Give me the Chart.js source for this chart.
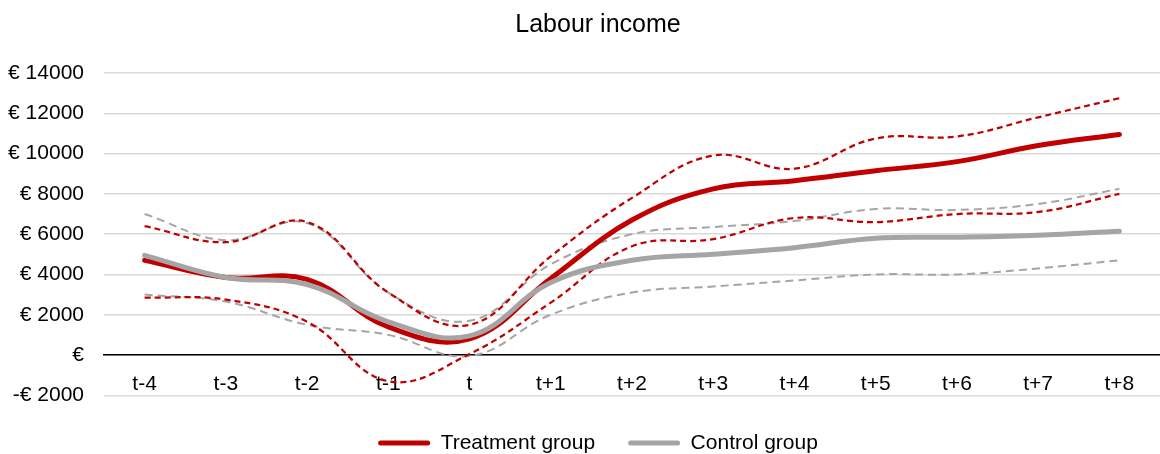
<!DOCTYPE html>
<html>
<head>
<meta charset="utf-8">
<title>Labour income</title>
<script src="https://cdn.jsdelivr.net/npm/chart.js@4/dist/chart.umd.min.js"></script>
<style>
  html, body { margin: 0; padding: 0; background: #ffffff; }
  #wrap { width: 1160px; height: 454px; }
</style>
</head>
<body>
<div id="wrap"><canvas id="chart" width="1160" height="454"></canvas></div>
<script>
// Years relative to the event year t
const categories = ['t-4', 't-3', 't-2', 't-1', 't', 't+1', 't+2', 't+3', 't+4', 't+5', 't+6', 't+7', 't+8'];

// Mean labour income (EUR)
const treatment = [4700, 3850, 3750, 1400, 800, 3800, 6700, 8250, 8650, 9150, 9600, 10400, 10950];
const control   = [4950, 3850, 3500, 1650, 950, 3600, 4700, 5000, 5330, 5800, 5850, 5950, 6150];

// Confidence bands (EUR)
const treatmentUpper = [6400, 5600, 6600, 3100, 1500, 4900, 7800, 9900, 9250, 10750, 10850, 11800, 12750];
const treatmentLower = [2850, 2750, 1650, -1300, 50, 2600, 5400, 5750, 6800, 6600, 7000, 7100, 8000];
const controlUpper   = [7000, 5700, 6550, 3100, 1700, 4500, 6000, 6350, 6650, 7250, 7200, 7500, 8250];
const controlLower   = [3000, 2650, 1500, 1000, -50, 2000, 3100, 3400, 3700, 4000, 4000, 4300, 4700];

// Value axis
const yMin = -2000;
const yMax = 14000;
const yStep = 2000;

const RED = '#C00000';
const GREY = '#A5A5A5';

Chart.defaults.font.family = '"Liberation Sans", Arial, sans-serif';
Chart.defaults.color = '#000000';

function euro(v) {
  if (v === 0) return '€';
  return (v < 0 ? '-€ ' : '€ ') + Math.abs(v);
}

const mainLine = (label, data, color, order) => ({
  label, data, order,
  borderColor: color, backgroundColor: color,
  borderWidth: 5, borderCapStyle: 'round', borderJoinStyle: 'round',
  pointRadius: 0, pointHoverRadius: 0, tension: 0.4, fill: false
});

const bandLine = (label, data, color, dash, width, order) => ({
  label, data, order,
  borderColor: color, backgroundColor: color,
  borderWidth: width, borderDash: dash, borderCapStyle: 'butt',
  pointRadius: 0, pointHoverRadius: 0, tension: 0.4, fill: false
});

// Let the value-axis labels use the whole left margin (the axis box is narrower
// so that title and legend stay centred on the plot block).
const widenValueAxis = {
  id: 'widenValueAxis',
  afterLayout(chart) {
    chart.scales.y.left = 0;
  }
};

new Chart(document.getElementById('chart'), {
  type: 'line',
  plugins: [widenValueAxis],
  data: {
    labels: categories,
    datasets: [
      mainLine('Treatment group', treatment, RED, 1),
      mainLine('Control group', control, GREY, 0),
      bandLine('Treatment upper', treatmentUpper, RED, [6, 4], 2.25, 2),
      bandLine('Treatment lower', treatmentLower, RED, [6, 4], 2.25, 2),
      bandLine('Control upper', controlUpper, GREY, [8, 5], 2, 3),
      bandLine('Control lower', controlLower, GREY, [8, 5], 2, 3)
    ]
  },
  options: {
    responsive: false,
    animation: false,
    events: [],
    layout: { padding: { top: 0, left: 36, right: 0, bottom: -9.5 } },
    scales: {
      x: {
        type: 'category',
        offset: true,
        position: { y: 0 },
        grid: { display: false, drawTicks: false },
        border: { display: true, color: '#000000', width: 1.5 },
        ticks: {
          font: { size: 21 }, color: '#000000', padding: 17,
          maxRotation: 0, autoSkip: false
        }
      },
      y: {
        min: yMin, max: yMax,
        grid: { color: '#D9D9D9', lineWidth: 1.5, drawTicks: false },
        border: { display: false },
        ticks: {
          stepSize: yStep, font: { size: 21 }, color: '#000000', padding: 20,
          callback: (v) => euro(v)
        },
        afterFit: (scale) => { scale.width = 68; }
      }
    },
    plugins: {
      tooltip: { enabled: false },
      title: {
        display: true,
        text: 'Labour income',
        color: '#000000',
        font: { size: 25, weight: 'normal' },
        padding: { top: 10, bottom: 33 }
      },
      legend: {
        display: true,
        position: 'bottom',
        title: { display: true, text: '', font: { size: 1 }, padding: { top: 3, bottom: 0 } },
        labels: {
          font: { size: 21 }, color: '#000000',
          boxWidth: 52, boxHeight: 5, padding: 33,
          useBorderRadius: true, borderRadius: 2.5,
          sort: (a, b) => a.datasetIndex - b.datasetIndex,
          generateLabels: (chart) => {
            const items = Chart.defaults.plugins.legend.labels.generateLabels(chart);
            return items
              .filter((it) => it.datasetIndex < 2)
              .map((it) => Object.assign({}, it, { fillStyle: it.strokeStyle, lineWidth: 0, lineDash: [] }));
          }
        }
      }
    }
  }
});
</script>
</body>
</html>
